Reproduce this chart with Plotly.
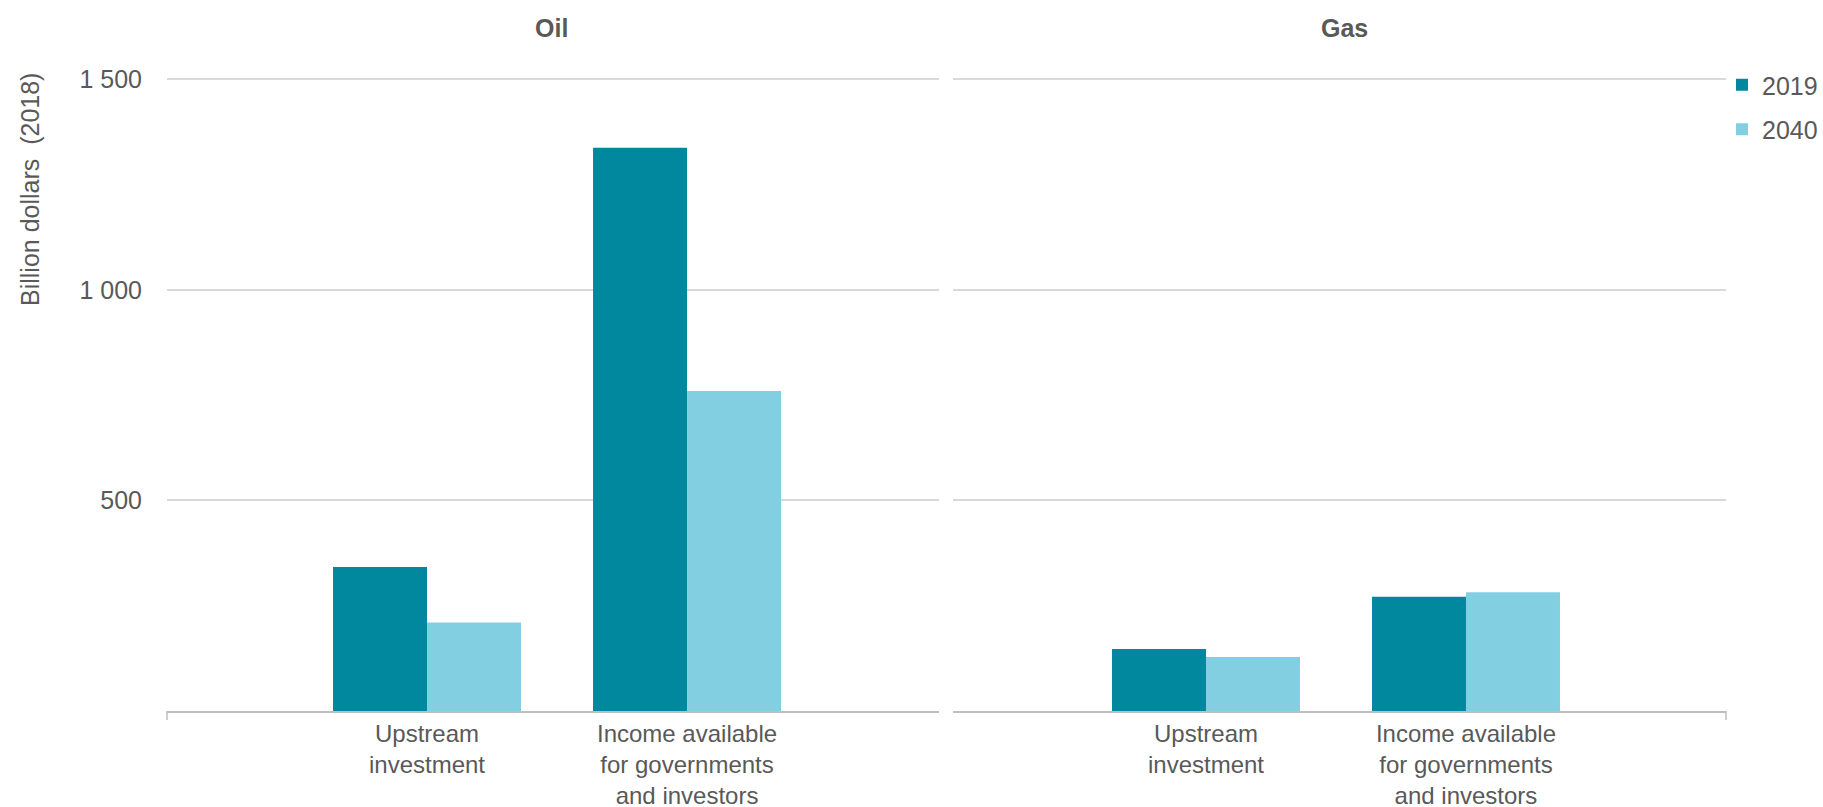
import plotly.graph_objects as go
from plotly.subplots import make_subplots

categories = ["Upstream<br>investment", "Income available<br>for governments<br>and investors"]
panels = ["Oil", "Gas"]
years = ["2019", "2040"]
oil_2019 = [342, 1337]
oil_2040 = [210, 760]
gas_2019 = [147, 271]
gas_2040 = [128, 282]
y_tickvals = [500, 1000, 1500]
y_ticktext = ["500", "1 000", "1 500"]
y_title = "Billion dollars  (2018)"

colors = {"2019": "#02889E", "2040": "#83CFE2"}
TEXT = "#595959"
FONT = "Liberation Sans, Arial, sans-serif"

W, H = 1823, 807
T, B = 75, 96
PH = H - T - B

fig = make_subplots(rows=1, cols=2, horizontal_spacing=0)

series = {"Oil": {"2019": oil_2019, "2040": oil_2040}, "Gas": {"2019": gas_2019, "2040": gas_2040}}
for ci, p in enumerate(panels, start=1):
    for y in years:
        fig.add_trace(go.Bar(
            x=categories, y=series[p][y], name=y,
            marker=dict(color=colors[y], line=dict(width=0)),
            showlegend=(ci == 1), legendgroup=y,
        ), row=1, col=ci)

doms = [[167 / W, 939 / W], [953 / W, 1726 / W]]
xranges = [[-1, 1.969], [-0.973, 2]]
title_x = [551, 1344]
for i, d in enumerate(doms, start=1):
    sx = "" if i == 1 else str(i)
    fig.layout["xaxis" + sx].update(
        domain=d, type="category", range=xranges[i - 1],
        showline=True, linecolor="#BFBFBF", linewidth=1.5,
        showgrid=False, ticks="", automargin=False,
        tickfont=dict(family=FONT, size=24, color=TEXT),
        ticklabelstandoff=0,
    )
    fig.layout["yaxis" + sx].update(
        range=[0, 1510], tickvals=y_tickvals, ticktext=y_ticktext,
        showticklabels=(i == 1), automargin=False,
        showgrid=True, gridcolor="#D9D9D9", gridwidth=1.5,
        zeroline=False, showline=False, ticks="",
        tickfont=dict(family=FONT, size=25, color=TEXT),
        ticklabelstandoff=24,
    )
    fig.add_annotation(
        text="<b>%s</b>" % panels[i - 1], xref="paper", yref="paper",
        x=title_x[i - 1] / W, y=(H - B - 28) / PH, showarrow=False,
        font=dict(family=FONT, size=25, color=TEXT), xanchor="center", yanchor="middle",
    )

# small tick marks at outer ends of the category axes
fig.add_shape(type="line", xref="x domain", yref="paper", x0=0, x1=0, y0=0, y1=-9 / PH,
              line=dict(color="#BFBFBF", width=1.5))
fig.add_shape(type="line", xref="x2 domain", yref="paper", x0=1, x1=1, y0=0, y1=-9 / PH,
              line=dict(color="#BFBFBF", width=1.5))

fig.add_annotation(
    text=y_title, xref="paper", yref="paper", x=30 / W, y=(H - B - 190) / PH,
    textangle=-90, showarrow=False, xanchor="center", yanchor="middle",
    font=dict(family=FONT, size=25, color=TEXT),
)

fig.update_layout(
    width=W, height=H,
    margin=dict(l=0, r=0, t=T, b=B, autoexpand=False),
    plot_bgcolor="white", paper_bgcolor="white",
    barmode="group", bargap=0.277, bargroupgap=0,
    legend=dict(x=1722 / W, y=(H - B - 62) / PH, xanchor="left", yanchor="top",
                font=dict(family=FONT, size=25, color=TEXT), traceorder="grouped",
                tracegroupgap=9, itemwidth=30, bgcolor="rgba(0,0,0,0)"),
    font=dict(family=FONT, color=TEXT),
)

fig.write_html("out.html", config={"displayModeBar": False},
               post_script="document.body.style.margin='0';document.body.style.overflow='hidden';")
